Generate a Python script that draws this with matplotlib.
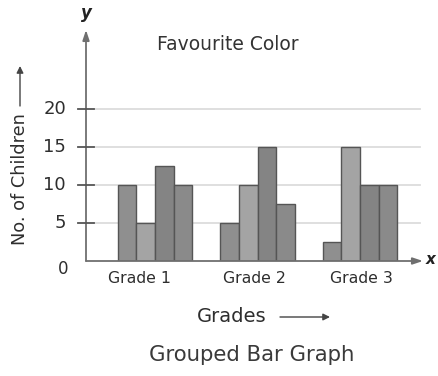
import matplotlib
matplotlib.use("Agg")
import matplotlib.pyplot as plt
import numpy as np

# Data
grades = ["Grade 1", "Grade 2", "Grade 3"]
series = [
    [10, 5, 2.5],     # colour 1
    [5, 10, 15],      # colour 2
    [12.5, 15, 10],   # colour 3
    [10, 7.5, 10],    # colour 4
]
y_ticks = [5, 10, 15, 20]

bar_colors = ["#8f8f8f", "#a4a4a4", "#848484", "#8a8a8a"]
text_color = "#2e2e2e"
axis_color = "#6f6f6f"

W, H = 438, 376
fig = plt.figure(figsize=(W / 100, H / 100), dpi=100)
fig.patch.set_facecolor("white")

# axes: left edge at the y axis, bottom edge at y = 0
left_px, bottom_px, right_px, top_px = 86, 261, 430, 30
ax = fig.add_axes([left_px / W, 1 - bottom_px / H,
                   (right_px - left_px) / W, (bottom_px - top_px) / H])
px_per_group = 102.5
x0 = 1 - (155 - left_px) / px_per_group
ax.set_xlim(x0, x0 + (right_px - left_px) / px_per_group)
ax.set_ylim(0, (bottom_px - top_px) / 7.6)
ax.axis("off")

# horizontal grid lines
gx0 = x0 + (94 - left_px) / px_per_group
gx1 = x0 + (420 - left_px) / px_per_group
for t in y_ticks:
    ax.plot([gx0, gx1], [t, t], color="#dcdcdc", lw=1.3, zorder=1)

# bars
n = len(series)
width = 0.181
centers = np.arange(1, len(grades) + 1)
for i, vals in enumerate(series):
    offs = (i - (n - 1) / 2) * width
    ax.bar(centers + offs, vals, width=width, color=bar_colors[i],
           edgecolor="#555555", linewidth=1.0, zorder=3)

# axes with arrows
ax.annotate("", xy=(x0, 30.4), xytext=(x0, 0),
            arrowprops=dict(arrowstyle="-|>,head_length=0.6,head_width=0.2",
                            color=axis_color, lw=1.3, shrinkA=0, shrinkB=0),
            annotation_clip=False, zorder=4)
ax.annotate("", xy=(x0 + (423 - left_px) / px_per_group, 0), xytext=(x0, 0),
            arrowprops=dict(arrowstyle="-|>,head_length=0.6,head_width=0.2",
                            color=axis_color, lw=1.3, shrinkA=0, shrinkB=0),
            annotation_clip=False, zorder=4)

# tick marks crossing the y axis
tx0 = x0 - 8 / px_per_group
tx1 = x0 + 8 / px_per_group
for t in y_ticks:
    ax.plot([tx0, tx1], [t, t], color="#555555", lw=1.3, zorder=4,
            clip_on=False)
    ax.text(x0 - 20 / px_per_group, t, str(t), ha="right", va="center",
            fontsize=13, color=text_color)
ax.text(x0 - 23 / px_per_group, -1.0, "0", ha="center", va="center",
        fontsize=12, color=text_color)

# group labels
label_x = [140, 254, 361]
for g, lx in zip(grades, label_x):
    ax.text(x0 + (lx - left_px) / px_per_group, -2.3, g, ha="center",
            va="center", fontsize=11.3, color=text_color)

# texts in figure pixel coordinates
def ftext(x, y, s, **kw):
    fig.text(x / W, 1 - y / H, s, **kw)

ftext(86, 13, "y", ha="center", va="center", fontsize=12,
      fontweight="bold", fontstyle="italic", color="#222222")
ftext(431, 259, "x", ha="center", va="center", fontsize=11,
      fontweight="bold", fontstyle="italic", color="#222222")
ftext(228, 44, "Favourite Color", ha="center", va="center", fontsize=13.5,
      color="#333333")
ftext(20, 179, "No. of Children", ha="center", va="center", rotation=90,
      fontsize=12.8, color=text_color)
ftext(232, 316, "Grades", ha="center", va="center", fontsize=14,
      color=text_color)
ftext(252, 355, "Grouped Bar Graph", ha="center", va="center", fontsize=15.3,
      color="#3a3a3a")

# small direction arrows next to the axis titles
fig.add_artist(matplotlib.patches.FancyArrowPatch(
    (20 / W, 1 - 106 / H), (20 / W, 1 - 66 / H), transform=fig.transFigure,
    arrowstyle="-|>,head_length=4,head_width=2", color="#444444", lw=1.0,
    shrinkA=0, shrinkB=0))
fig.add_artist(matplotlib.patches.FancyArrowPatch(
    (280 / W, 1 - 317 / H), (330 / W, 1 - 317 / H), transform=fig.transFigure,
    arrowstyle="-|>,head_length=4,head_width=2", color="#444444", lw=1.0,
    shrinkA=0, shrinkB=0))

fig.savefig("out.png", dpi=100, facecolor="white")
